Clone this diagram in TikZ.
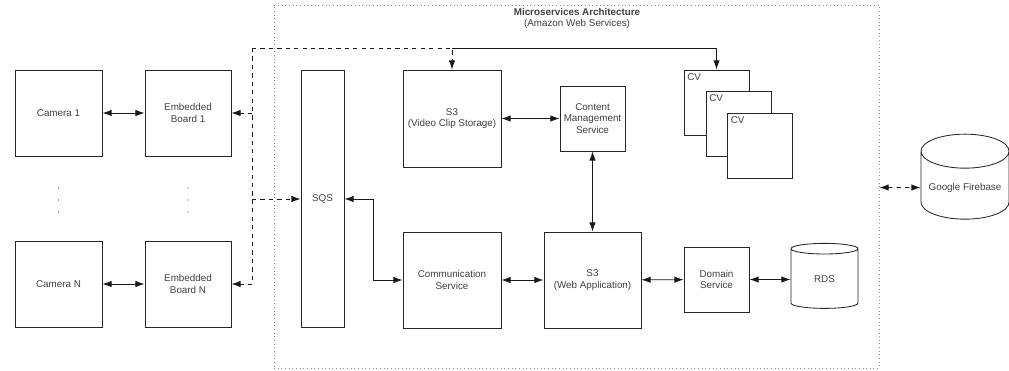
\documentclass[tikz,border=0pt]{standalone}
\usepackage{fontspec}
\setmainfont{Liberation Sans}
\usetikzlibrary{arrows.meta,shapes.geometric}

\tikzset{
	box/.style={draw=black!85, line width=0.6pt, fill=white, align=center, inner sep=1pt,
		font=\fontsize{7}{8.3}\selectfont, text=black!75},
	db/.style={box, cylinder, shape border rotate=90, aspect=0.45},
	link/.style={line width=0.6pt, draw=black!90},
	lbl/.style={inner sep=1pt, font=\fontsize{7}{8.3}\selectfont, text=black!75},
}

\begin{document}
\begin{tikzpicture}[x=0.25mm, y=-0.25mm, >={Latex[length=2.3mm,width=1.6mm]}]
			%%%%% START %%%%%
			\useasboundingbox (0,0) rectangle (1009,370);
			
			% cloud part
			\node[draw=black!45, dotted, line width=0.6pt, minimum width=151.25mm, minimum height=90.75mm] (aws) at (576.5,186.5) {};
			\node[lbl, align=center] (title) at (577,18.5) {\textbf{Microservices Architecture}\\(Amazon Web Services)};
			
			% cameras and boards
			\node[box, minimum width=21.75mm, minimum height=21.5mm] (cam1) at (58.5,113) {Camera 1};
			\node[box, minimum width=21.75mm, minimum height=21.5mm] (camN) at (58.5,284) {Camera N};
			\node[box, minimum width=21.5mm, minimum height=21.5mm] (eb1) at (188,113) {Embedded\\Board 1};
			\node[box, minimum width=21.5mm, minimum height=21.5mm] (ebN) at (188,284) {Embedded\\Board N};
			\foreach \xx in {58.5,188}
				\foreach \yy in {188,200,212}
					\fill[black!80] (\xx,\yy) circle (0.4pt);
			
			% services
			\node[box, minimum width=10.75mm, minimum height=64.25mm] (sqs) at (322.5,199) {SQS};
			\node[box, minimum width=24.5mm, minimum height=24.25mm] (vcs) at (452,118.5) {S3\\(Video Clip Storage)};
			\node[box, minimum width=16.25mm, minimum height=16.25mm] (cms) at (592.5,118.5) {Content\\Management\\Service};
			\node[box, minimum width=16.25mm, minimum height=16.25mm] (cv1) at (716.5,102.5) {};
			\node[box, minimum width=16.25mm, minimum height=16.25mm] (cv2) at (738.5,124) {};
			\node[box, minimum width=16.25mm, minimum height=16.25mm] (cv3) at (760,145.5) {};
			\foreach \n in {cv1,cv2,cv3}
				\node[lbl, anchor=north west] (\n t) at ([shift={(2,2)}]\n.north west) {CV};
			\node[box, minimum width=24.5mm, minimum height=24mm] (comm) at (452,280) {Communication\\Service};
			\node[box, minimum width=24.25mm, minimum height=24mm] (web) at (592.5,280) {S3\\(Web Application)};
			\node[box, minimum width=16.25mm, minimum height=16.25mm] (dom) at (716.5,279.5) {Domain\\Service};
			\node[db, minimum width=16.75mm, minimum height=16.25mm] (rds) at (824.5,279.5) {RDS};
			\node[db, minimum width=22mm, minimum height=21.25mm] (fb) at (965,187.5) {Google Firebase};
			
			% connectors
			\coordinate (jt) at (252,48);
			\coordinate (j1) at (252,113);
			\coordinate (jq) at (252,199);
			\coordinate (jN) at (252,284);
			\coordinate (top) at (452,48);
			
			\draw[link, <->] (cam1) -- (eb1);
			\draw[link, <->] (camN) -- (ebN);
			\draw[link, dashed] (jt) -- (jN);
			\draw[link, dashed, ->] (j1) -- (eb1);
			\draw[link, dashed, ->] (jN) -- (ebN);
			\draw[link, dashed, ->] (jq) -- (sqs);
			\draw[link, dashed, ->] (jt) -| (vcs);
			\draw[link, ->] (top) -| (cv1);
			\draw[link, <->] (sqs.east) -- ++(29,0) |- (comm.west);
			\draw[link, <->] (vcs) -- (cms);
			\draw[link, <->] (cms) -- (web);
			\draw[link, <->] (comm) -- (web);
			\draw[link, <->] (web) -- (dom);
			\draw[link, <->] (dom) -- (rds);
			\draw[link, dashed, <->] (aws.east |- fb) -- (fb);
			
			%%%%% END %%%%%
\end{tikzpicture}
\end{document}
